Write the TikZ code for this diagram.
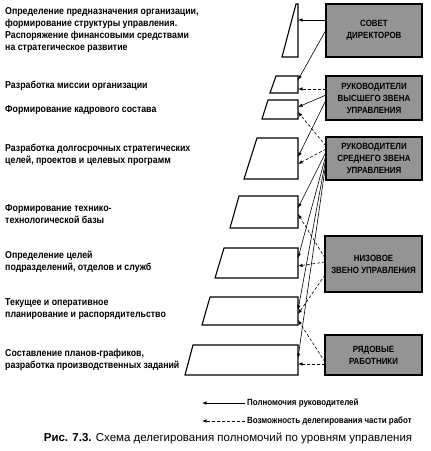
\documentclass[tikz,border=0pt]{standalone}
\usepackage{fontspec}
\setmainfont{Liberation Sans}[FakeStretch=0.88]
\newfontfamily\capfont{Liberation Sans}
\usetikzlibrary{positioning}
\usetikzlibrary{calc}
\usetikzlibrary{arrows}
\tikzset{>=latex}
\tikzset{level/.style={rectangle, draw, line width=1.2pt, fill=black!42, font=\fontsize{9}{12}\selectfont\bfseries, align=center, inner sep=1pt, outer sep=0pt}}
\tikzset{task/.style={anchor=west, align=left, font=\fontsize{10}{12}\selectfont\bfseries, inner sep=0pt}}
\tikzset{plate/.style={draw, line width=1.1pt, line join=miter}}
\tikzset{power/.style={->, line width=0.6pt}}
\tikzset{deleg/.style={->, line width=0.6pt, dash pattern=on 3pt off 2pt}}
\tikzset{key/.style={anchor=west, inner sep=0pt, font=\fontsize{9}{10}\selectfont\bfseries}}

\begin{document}
\begin{tikzpicture}[x=1pt, y=-1pt]
    \useasboundingbox (0,0) rectangle (431,451);

    % management levels
    \node [level, minimum width=96pt, minimum height=53pt] (board) at (374,30.5) {СОВЕТ\\ДИРЕКТОРОВ};
    \node [level, minimum width=96pt, minimum height=44pt] (top) at (374,98) {РУКОВОДИТЕЛИ\\ВЫСШЕГО ЗВЕНА\\УПРАВЛЕНИЯ};
    \node [level, minimum width=96pt, minimum height=43pt] (middle) at (374,158.5) {РУКОВОДИТЕЛИ\\СРЕДНЕГО ЗВЕНА\\УПРАВЛЕНИЯ};
    \node [level, minimum width=97pt, minimum height=56pt] (lower) at (373.5,264) {НИЗОВОЕ\\ЗВЕНО УПРАВЛЕНИЯ};
    \node [level, minimum width=97pt, minimum height=40pt] (staff) at (373.5,355) {РЯДОВЫЕ\\РАБОТНИКИ};

    % plates
    \draw [plate] (296,4) -- (298,4) -- (298,57) -- (282,57) -- cycle;
    \draw [plate] (276,76) -- (298,76) -- (298,93) -- (270,93) -- cycle;
    \draw [plate] (268,100) -- (298,100) -- (298,119) -- (262,119) -- cycle;
    \draw [plate] (257,138) -- (298,138) -- (298,179) -- (244,179) -- cycle;
    \draw [plate] (239,196) -- (298,196) -- (298,228) -- (230,228) -- cycle;
    \draw [plate] (224,248) -- (298,248) -- (298,278) -- (215,278) -- cycle;
    \draw [plate] (210,297) -- (298,297) -- (298,325) -- (202,325) -- cycle;
    \draw [plate] (193,345) -- (298,345) -- (298,375) -- (185,375) -- cycle;
    \coordinate (p1) at (298,4);
    \coordinate (p2) at (298,76);
    \coordinate (p3) at (298,100);
    \coordinate (p4) at (298,138);
    \coordinate (p5) at (298,196);
    \coordinate (p6) at (298,248);
    \coordinate (p7) at (298,297);
    \coordinate (p8) at (298,345);

    % tasks
    \node [task] (t1) at (5,30.5) {Определение предназначения организации,\\формирование структуры управления.\\Распоряжение финансовыми средствами\\на стратегическое развитие};
    \node [task] (t2) at (5,86) {Разработка миссии организации};
    \node [task] (t3) at (5,110) {Формирование кадрового состава};
    \node [task] (t4) at (5,154.5) {Разработка долгосрочных стратегических\\целей, проектов и целевых программ};
    \node [task] (t5) at (5,214) {Формирование технико-\\технологической базы};
    \node [task] (t6) at (5,261.5) {Определение целей\\подразделений, отделов и служб};
    \node [task] (t7) at (5,309) {Текущее и оперативное\\планирование и распорядительство};
    \node [task] (t8) at (5,359.5) {Составление планов-графиков,\\разработка производственных заданий};

    % powers
    \draw [power] (board.west |- 0,20) -- (p1 |- 0,20);
    \draw [power] (board.west |- 0,30) -- (p2 |- 0,80);
    \draw [power] (top.west |- 0,95) -- (p3 |- 0,107);
    \draw [power] (top.west |- 0,100) -- (p4 |- 0,157);
    \draw [power] (middle.west |- 0,152) -- (p5 |- 0,208);
    \draw [power] (middle.west |- 0,155) -- (p6 |- 0,258);
    \draw [power] (middle.west |- 0,158) -- (p7 |- 0,310);
    \draw [power] (middle.west |- 0,162) -- (p8 |- 0,358);

    % delegation
    \draw [deleg] (top.west |- 0,89) -- (p2 |- 0,89);
    \draw [deleg] (middle.west |- 0,146) -- (p3 |- 0,112);
    \draw [deleg] (middle.west |- 0,149) -- (p4 |- 0,164);
    \draw [deleg] (lower.west |- 0,258) -- (p5 |- 0,214);
    \draw [deleg] (lower.west |- 0,262) -- (p6 |- 0,266);
    \draw [deleg] (lower.west |- 0,275) -- (p7 |- 0,314);
    \draw [deleg] (staff.west |- 0,362) -- (p7 |- 0,320);
    \draw [deleg] (staff.west |- 0,364) -- (p8 |- 0,364);

    % legend
    \node [key] (key1) at (247,403) {Полномочия руководителей};
    \node [key] (key2) at (247,421) {Возможность делегирования части работ};
    \coordinate (k1) at (202,403);
    \coordinate (k2) at (202,421);
    \draw [power] ([xshift=-2pt]key1.west) -- (k1);
    \draw [deleg] ([xshift=-2pt]key2.west) -- (k2);

    % caption
    \node [inner sep=0pt, font=\capfont\fontsize{11.5}{13}\selectfont] (caption) at (228,438) {\textbf{Рис. 7.3.} Схема делегирования полномочий по уровням управления};

\end{tikzpicture}
\end{document}
